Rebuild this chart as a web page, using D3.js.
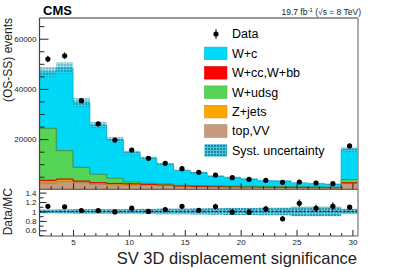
<!DOCTYPE html>
<html><head><meta charset="utf-8">
<script src="https://cdn.jsdelivr.net/npm/d3@7"></script>
<style>body{margin:0;background:#fff} svg{display:block} text{font-family:"Liberation Sans",Arial,sans-serif}</style>
</head><body><svg id="c" width="399" height="270"></svg>
<script>
// ---- data ----
const binEdges = [2,3.5,5,6.5,8,9.5,11,12.5,14,15.5,17,18.5,20,21.5,23,24.5,26,27.5,29,30.5];
const dataVals = [51900,53200,35300,26100,19600,15650,12350,10350,8200,6770,5700,4620,3980,3580,2790,2900,2500,2230,17300];
const dataErr  = [1300,1300,1000,800,600,500,450,400,350,300,300,250,250,220,200,200,180,170,500];
const topVV = [2500,3000,2600,2000,1800,1700,1600,1500,1100,1000,950,900,850,800,750,700,650,600,2300];
const zJets = [800,800,400,300,250,200,150,120,100,90,80,70,60,50,50,40,40,30,150];
const wccbb = [300,300,300,350,300,300,250,150,100,80,70,60,50,40,40,30,30,30,150];
const wudsg = [20700,11300,5460,3350,2050,800,400,330,300,300,280,250,230,200,190,180,170,160,1300];
const wc    = [22460,32960,25840,19590,15400,11630,9950,7850,5790,5130,3780,3410,2850,2300,2270,1520,1450,1190,11970];
const systRel = [0.04,0.045,0.05,0.05,0.05,0.05,0.055,0.06,0.06,0.065,0.07,0.075,0.075,0.08,0.08,0.1,0.1,0.1,0.055];
const yTicks = [20000,40000,60000];
const xTicks = [5,10,15,20,25,30];
const ratioTicks = [0.6,0.8,1,1.2,1.4];
const ratioTickLabels = ["0.6","0.8","1","1.2","1.4"];
const legendNames = ["W+c","W+cc,W+bb","W+udsg","Z+jets","top,VV"];
const legendColors = ["#00d8f8","#ff0000","#55d455","#ffa500","#c69a7c"];

// ---- layout ----
const L = 39.5, R = 358, T = 18, MB = 189.3, RB = 236;
const svg = d3.select("#c");
const x = d3.scaleLinear().domain([2,30.5]).range([L,R]);
const y = d3.scaleLinear().domain([0,68250]).range([MB,T]);
const yr = d3.scaleLinear().domain([0.48,1.47]).range([RB,MB]);

const defs = svg.append("defs");
const pat = defs.append("pattern").attr("id","syst").attr("patternUnits","userSpaceOnUse").attr("width",3).attr("height",3);
pat.append("rect").attr("width",3).attr("height",3).attr("fill","#0a8cad");
pat.append("rect").attr("width",3).attr("height",1).attr("fill","#5cc0d6");
pat.append("rect").attr("width",1).attr("height",3).attr("fill","#5cc0d6");
defs.append("clipPath").attr("id","clipM").append("rect").attr("x",L).attr("y",T).attr("width",R-L).attr("height",MB-T);

const nb = dataVals.length;
const layers = [
  {vals: topVV, color: "#c69a7c", line: "#a07a60"},
  {vals: zJets, color: "#ffa500", line: "#d08a00"},
  {vals: wccbb, color: "#ff0000", line: "#cc0000"},
  {vals: wudsg, color: "#55d455", line: "#3f8f3f"},
  {vals: wc,    color: "#00d8f8", line: "#00b8d8"}
];
const cum = new Array(nb).fill(0);
const gM = svg.append("g").attr("clip-path","url(#clipM)");
const area = d3.area().curve(d3.curveStepAfter).x(d=>x(d.x)).y0(d=>y(d.y0)).y1(d=>y(d.y1));
const line = d3.line().curve(d3.curveStepAfter).x(d=>x(d.x)).y(d=>y(d.y1));
layers.forEach(ly=>{
  const pts = [];
  for(let i=0;i<nb;i++){ pts.push({x:binEdges[i], y0:cum[i], y1:cum[i]+ly.vals[i]}); }
  pts.push({x:binEdges[nb], y0:pts[nb-1].y0, y1:pts[nb-1].y1});
  for(let i=0;i<nb;i++) cum[i]+=ly.vals[i];
  ly.pts = pts;
});
layers.forEach(ly=>{ gM.append("path").attr("d",area(ly.pts)).attr("fill",ly.color); });
layers.forEach(ly=>{ gM.append("path").attr("d",line(ly.pts)).attr("fill","none").attr("stroke",ly.line).attr("stroke-width",1); });
const total = cum.slice();
for(let i=0;i<nb;i++){
  const u = total[i]*systRel[i];
  gM.append("rect").attr("x",x(binEdges[i])).attr("width",x(binEdges[i+1])-x(binEdges[i]))
    .attr("y",y(total[i]+u)).attr("height",y(total[i]-u)-y(total[i]+u))
    .attr("fill","url(#syst)").attr("opacity",0.6);
}
const centers = d3.range(nb).map(i=>(binEdges[i]+binEdges[i+1])/2);
for(let i=0;i<nb;i++){
  gM.append("line").attr("x1",x(centers[i])).attr("x2",x(centers[i]))
    .attr("y1",y(dataVals[i]-dataErr[i])).attr("y2",y(dataVals[i]+dataErr[i])).attr("stroke","#000").attr("stroke-width",1);
  gM.append("circle").attr("cx",x(centers[i])).attr("cy",y(dataVals[i])).attr("r",2.6).attr("fill","#000");
}
// ratio
const gR = svg.append("g");
for(let i=0;i<nb;i++){
  gR.append("rect").attr("x",x(binEdges[i])).attr("width",x(binEdges[i+1])-x(binEdges[i]))
    .attr("y",yr(1+systRel[i])).attr("height",yr(1-systRel[i])-yr(1+systRel[i]))
    .attr("fill","url(#syst)").attr("opacity",0.9);
}
gR.append("line").attr("x1",L).attr("x2",R).attr("y1",yr(1)).attr("y2",yr(1)).attr("stroke","#113").attr("stroke-width",1.2).attr("stroke-dasharray","2,2");
for(let i=0;i<nb;i++){
  const r = dataVals[i]/total[i], re = dataErr[i]/total[i];
  gR.append("line").attr("x1",x(centers[i])).attr("x2",x(centers[i]))
    .attr("y1",yr(r-re)).attr("y2",yr(r+re)).attr("stroke","#000");
  gR.append("circle").attr("cx",x(centers[i])).attr("cy",yr(r)).attr("r",2.6).attr("fill","#000");
}

// ---- axes ----
const fmt = d3.format("d");
svg.append("g").attr("transform",`translate(${L},0)`)
  .call(d3.axisLeft(y).tickValues(yTicks).tickFormat(fmt).tickSizeInner(-9).tickSizeOuter(0).tickPadding(3));
svg.append("g").attr("transform",`translate(${L},0)`)
  .call(d3.axisLeft(y).tickValues(d3.range(5000,68250,5000).filter(v=>v%20000)).tickFormat("").tickSizeInner(-5).tickSizeOuter(0));
svg.append("g").attr("transform",`translate(${L},0)`)
  .call(d3.axisLeft(yr).tickValues(ratioTicks).tickFormat((d,i)=>ratioTickLabels[i]).tickSizeInner(-7).tickSizeOuter(0).tickPadding(3));
svg.append("g").attr("transform",`translate(${L},0)`)
  .call(d3.axisLeft(yr).tickValues([0.5,0.7,0.9,1.1,1.3]).tickFormat("").tickSizeInner(-4).tickSizeOuter(0));
svg.append("g").attr("transform",`translate(0,${MB})`)
  .call(d3.axisBottom(x).tickValues(xTicks).tickFormat("").tickSizeInner(-6).tickSizeOuter(0));
svg.append("g").attr("transform",`translate(0,${MB})`)
  .call(d3.axisBottom(x).tickValues(d3.range(3,31,1).filter(v=>v%5)).tickFormat("").tickSizeInner(-3).tickSizeOuter(0));
svg.append("g").attr("transform",`translate(0,${RB})`)
  .call(d3.axisBottom(x).tickValues(xTicks).tickFormat(fmt).tickSizeInner(-6).tickSizeOuter(0).tickPadding(3));
svg.append("g").attr("transform",`translate(0,${RB})`)
  .call(d3.axisBottom(x).tickValues(d3.range(3,31,1).filter(v=>v%5)).tickFormat("").tickSizeInner(-3).tickSizeOuter(0));
svg.selectAll(".domain").remove();
svg.selectAll(".tick line").attr("stroke","#222");
svg.selectAll(".tick text").attr("font-size","8px").attr("fill","#222").style("font-family","Liberation Sans, Arial, sans-serif");

// frame
svg.append("line").attr("x1",L).attr("x2",L).attr("y1",T).attr("y2",RB).attr("stroke","#444").attr("stroke-width",1.2);
svg.append("line").attr("x1",L).attr("x2",R).attr("y1",T).attr("y2",T).attr("stroke","#333").attr("stroke-width",1);
svg.append("line").attr("x1",R).attr("x2",R).attr("y1",T).attr("y2",RB).attr("stroke","#999").attr("stroke-width",1.6);
svg.append("line").attr("x1",L).attr("x2",R).attr("y1",MB).attr("y2",MB).attr("stroke","#444").attr("stroke-width",1);
svg.append("line").attr("x1",L).attr("x2",R).attr("y1",RB).attr("y2",RB).attr("stroke","#555").attr("stroke-width",1.2);

// ---- texts ----
svg.append("text").attr("x",43).attr("y",15).attr("font-size","13px").attr("font-weight","bold").text("CMS");
const lumi = svg.append("text").attr("x",361).attr("y",15).attr("font-size","8.5px").attr("text-anchor","end").attr("fill","#222");
lumi.append("tspan").text("19.7 fb");
lumi.append("tspan").attr("dy",-3).attr("font-size","6px").text("-1");
lumi.append("tspan").attr("dy",3).text(" (√s = 8 TeV)");
svg.append("text").attr("transform","translate(12,18) rotate(-90)").attr("text-anchor","end").attr("font-size","12px").attr("fill","#222").text("(OS-SS) events");
svg.append("text").attr("transform","translate(12,188) rotate(-90)").attr("text-anchor","end").attr("font-size","12px").attr("fill","#222").text("Data/MC");
svg.append("text").attr("x",357).attr("y",264).attr("text-anchor","end").attr("font-size","16.5px").attr("fill","#222").text("SV 3D displacement significance");

// ---- legend ----
const lg = svg.append("g");
const ly0 = 34, dy = 19.4;
lg.append("line").attr("x1",216).attr("x2",216).attr("y1",ly0-5).attr("y2",ly0+5).attr("stroke","#000");
lg.append("circle").attr("cx",216).attr("cy",ly0).attr("r",2.6).attr("fill","#000");
lg.append("text").attr("x",232).attr("y",ly0+4.3).attr("font-size","12.5px").text("Data");
legendNames.forEach((n,i)=>{
  const cy = ly0+dy*(i+1);
  lg.append("rect").attr("x",204.5).attr("y",cy-6.3).attr("width",22.5).attr("height",12.6).attr("fill",legendColors[i]).attr("stroke",d3.color(legendColors[i]).darker(0.4)).attr("stroke-width",0.6);
  lg.append("text").attr("x",232).attr("y",cy+4.3).attr("font-size","12.5px").text(n);
});
const cyS = ly0+dy*6;
lg.append("rect").attr("x",204.5).attr("y",cyS-6.3).attr("width",22.5).attr("height",12.6).attr("fill","url(#syst)");
lg.append("text").attr("x",232).attr("y",cyS+4.3).attr("font-size","12.5px").text("Syst. uncertainty");
</script></body></html>
